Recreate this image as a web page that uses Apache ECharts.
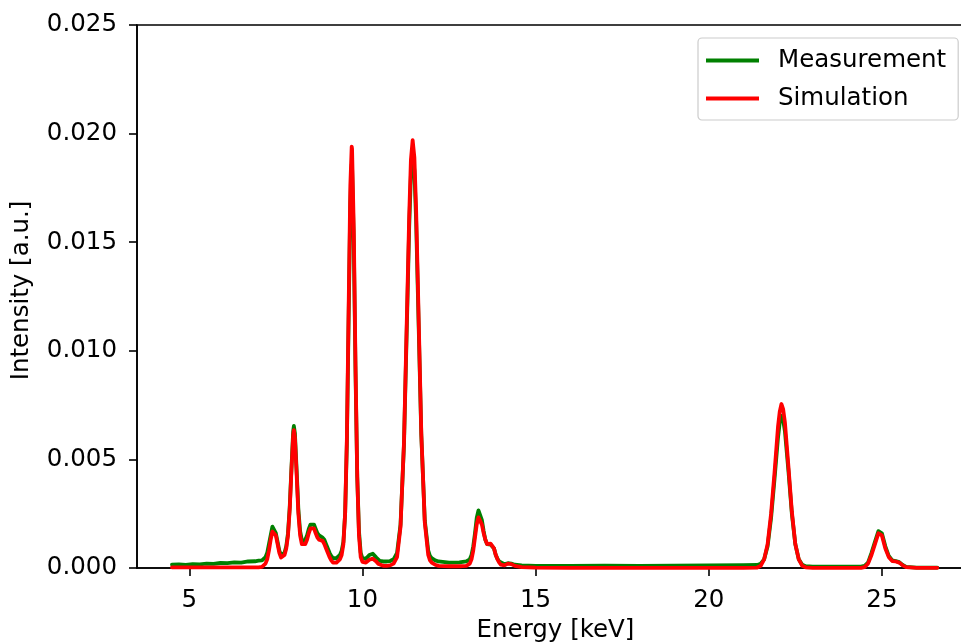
<!DOCTYPE html>
<html>
<head>
<meta charset="utf-8">
<script src="https://cdn.jsdelivr.net/npm/echarts@6/dist/echarts.min.js"></script>
<style>
  html, body { margin: 0; padding: 0; background: #fff; }
  #chart { width: 961px; height: 643px; }
</style>
</head>
<body>
<div id="chart"></div>
<script>
// Energy grid [keV]
const energy = [
  4.5,4.7,4.9,5.1,5.3,5.5,5.7,5.9,6.1,6.3,6.5,6.7,6.9,7.0,
  7.1,7.2,7.25,7.3,7.35,7.4,7.43,7.45,7.5,7.55,7.6,7.65,7.7,7.75,7.8,7.85,7.9,7.95,
  8.0,8.02,8.05,8.1,8.15,8.2,8.25,8.3,8.35,8.4,8.45,8.5,8.55,8.6,8.65,8.7,8.75,8.8,8.85,8.9,8.95,
  9.0,9.05,9.1,9.15,9.2,9.25,9.3,9.35,9.4,9.45,9.5,9.55,9.6,9.65,9.69,9.7,9.75,9.8,9.85,9.9,9.95,
  10.0,10.05,10.1,10.15,10.2,10.25,10.3,10.35,10.4,10.45,10.5,10.6,10.7,10.8,10.9,
  11.0,11.1,11.2,11.3,11.35,11.4,11.45,11.5,11.55,11.6,11.7,11.8,11.9,11.95,
  12.0,12.1,12.2,12.5,12.8,
  13.0,13.1,13.15,13.2,13.25,13.3,13.35,13.38,13.4,13.45,13.5,13.55,13.6,13.65,13.7,13.75,13.8,13.85,13.9,13.95,
  14.0,14.1,14.2,14.25,14.3,14.4,14.6,
  15,16,17,18,19,20,21,21.4,21.5,21.6,21.7,21.8,21.9,
  22.0,22.05,22.1,22.15,22.2,22.3,22.4,22.5,22.6,22.7,22.8,
  23,24,24.4,24.5,24.6,24.7,24.8,24.9,24.95,
  25.0,25.1,25.2,25.3,25.4,25.5,25.6,25.7,26.0,26.6
];

// Measurement intensity [a.u.]
const measurement = [
  0.00015,0.00017,0.00014,0.00018,0.00017,0.0002,0.00019,0.00023,0.00022,0.00026,0.00025,0.0003,0.00031,0.00034,
  0.00035,0.0005,0.0007,0.0011,0.0015,0.0019,0.00194,0.0019,0.0016,0.0012,0.0008,0.0006,0.00058,0.0007,0.001,0.0016,0.0028,0.0046,
  0.0063,0.00654,0.0062,0.0045,0.0027,0.0017,0.0013,0.0012,0.0013,0.0015,0.0018,0.002,0.00208,0.002,0.0018,0.0016,0.0015,0.00143,0.0014,0.0013,0.0011,
  0.0009,0.0007,0.00055,0.00045,0.00043,0.00045,0.0005,0.0006,0.0008,0.0012,0.0025,0.0057,0.0113,0.0168,0.0186,0.0185,0.015,0.009,0.0042,0.0017,0.0007,
  0.00045,0.0004,0.00042,0.0005,0.0006,0.00065,0.00066,0.0006,0.00048,0.0004,0.00033,0.0003,0.0003,0.00032,0.0004,
  0.0007,0.002,0.0057,0.0123,0.0157,0.0181,0.019,0.0183,0.016,0.0127,0.0061,0.0022,0.0008,0.00055,
  0.00045,0.00035,0.0003,0.00025,0.00026,
  0.0003,0.0004,0.0006,0.001,0.0016,0.0023,0.00265,0.0027,0.00265,0.0022,0.0017,0.0013,0.0011,0.00105,0.00108,0.00105,0.0009,0.0006,0.00042,0.0003,
  0.00022,0.00018,0.00022,0.00022,0.0002,0.00015,0.00012,
  0.0001,0.0001,0.00011,0.0001,0.00011,0.00012,0.00013,0.00014,0.0002,0.0004,0.001,0.0023,0.0041,
  0.006,0.0067,0.007,0.0068,0.0063,0.0045,0.0025,0.0011,0.0004,0.00015,0.00008,
  0.00006,0.00006,0.00006,0.0001,0.00025,0.0007,0.0012,0.0017,0.00174,
  0.0016,0.001,0.00055,0.00035,0.00032,0.00027,0.00014,0.00005,0.00002,0.00002
];

// Simulation intensity [a.u.]
const simulation = [
  0.00003,0.00003,0.00003,0.00003,0.00003,0.00003,0.00003,0.00003,0.00003,0.00003,0.00003,0.00003,0.00003,0.00003,
  0.00005,0.0002,0.0004,0.0008,0.0013,0.00168,0.00177,0.00175,0.0015,0.0011,0.0007,0.00048,0.00045,0.0006,0.0009,0.0015,0.0027,0.0045,
  0.0061,0.00635,0.006,0.0043,0.0025,0.0015,0.0011,0.00103,0.0011,0.0013,0.0016,0.00182,0.00189,0.00182,0.0016,0.0014,0.0013,0.00128,0.00125,0.0011,0.0009,
  0.0007,0.0005,0.00035,0.00025,0.00023,0.00025,0.0003,0.0004,0.0006,0.0011,0.0025,0.0059,0.0118,0.0176,0.0194,0.0193,0.0156,0.0093,0.0042,0.0015,0.0005,
  0.00028,0.00024,0.00025,0.0003,0.00038,0.00042,0.00043,0.0004,0.0003,0.0002,0.00013,0.0001,0.0001,0.00012,0.0002,
  0.0005,0.0019,0.0058,0.0127,0.0162,0.0188,0.0197,0.0189,0.0165,0.0131,0.0062,0.0021,0.0006,0.00035,
  0.00025,0.00015,0.0001,0.00008,0.00008,
  0.0001,0.0002,0.0004,0.0008,0.0014,0.002,0.00233,0.00235,0.0023,0.002,0.0016,0.0013,0.0011,0.0011,0.00112,0.0011,0.0009,0.0006,0.0004,0.00025,
  0.00015,0.00012,0.0002,0.00021,0.00018,0.0001,0.00004,
  0.00002,0.00001,0.00001,0.00001,0.00001,0.00001,0.00001,0.00002,0.0001,0.0004,0.0011,0.0025,0.0044,
  0.0065,0.0072,0.00755,0.0073,0.0067,0.0047,0.0026,0.0011,0.0004,0.0001,0.00003,
  0.00001,0.00001,0.00001,0.00004,0.0002,0.0006,0.0011,0.0016,0.00161,
  0.0015,0.0009,0.0005,0.00032,0.0003,0.00025,0.00012,0.00004,0.00001,0.00001
];

const xTicks = [5, 10, 15, 20, 25];
const yTicks = [0, 0.005, 0.010, 0.015, 0.020, 0.025];
const seriesNames = ['Measurement', 'Simulation'];

const pairs = (ys) => energy.map((e, i) => [e, ys[i]]);

const FONT = 'DejaVu Sans';
const FS = 24.5;
const chart = echarts.init(document.getElementById('chart'), null, { renderer: 'canvas' });
chart.setOption({
  animation: false,
  backgroundColor: '#ffffff',
  grid: {
    left: 137, top: 25, width: 837, height: 543,
    outerBoundsMode: 'none', containLabel: false,
    show: true, borderColor: '#000', borderWidth: 1.6, backgroundColor: 'transparent'
  },
  legend: {
    orient: 'vertical',
    left: 698, top: 38,
    padding: [10, 12, 9, 8],
    itemGap: 13,
    itemWidth: 53, itemHeight: 4,
    backgroundColor: 'rgba(255,255,255,0.8)',
    borderColor: '#cccccc', borderWidth: 1.2, borderRadius: 4,
    textStyle: { fontFamily: FONT, fontSize: FS, color: '#000', padding: [0, 0, 0, 14], lineHeight: 24 },
    data: seriesNames.map(n => ({ name: n, icon: 'rect' }))
  },
  xAxis: {
    type: 'value', min: 3.49, max: 27.66,
    name: 'Energy [keV]', nameLocation: 'middle', nameGap: 48,
    nameTextStyle: { fontFamily: FONT, fontSize: FS, color: '#000' },
    axisLine: { show: true, onZero: false, lineStyle: { color: '#000', width: 1.6 } },
    axisTick: { show: true, length: 8, lineStyle: { color: '#000', width: 1.6 }, customValues: xTicks },
    axisLabel: { fontFamily: FONT, fontSize: FS, color: '#000', margin: 20, customValues: xTicks,
                 formatter: v => String(v) },
    splitLine: { show: false }
  },
  yAxis: {
    type: 'value', min: 0, max: 0.025, interval: 0.005,
    name: 'Intensity [a.u.]', nameLocation: 'middle', nameGap: 103,
    nameTextStyle: { fontFamily: FONT, fontSize: FS, color: '#000', padding: [0, 0, 0, 12] },
    axisLine: { show: true, lineStyle: { color: '#000', width: 1.6 } },
    axisTick: { show: true, length: 8, lineStyle: { color: '#000', width: 1.6 }, customValues: yTicks },
    axisLabel: { fontFamily: FONT, fontSize: FS, color: '#000', margin: 20, customValues: yTicks,
                 formatter: v => v.toFixed(3) },
    splitLine: { show: false }
  },
  series: [
    { name: seriesNames[0], type: 'line', data: pairs(measurement), showSymbol: false,
      lineStyle: { color: '#008000', width: 3.8, join: 'round', cap: 'round' }, itemStyle: { color: '#008000' }, z: 2 },
    { name: seriesNames[1], type: 'line', data: pairs(simulation), showSymbol: false,
      lineStyle: { color: '#ff0000', width: 3.8, join: 'round', cap: 'round' }, itemStyle: { color: '#ff0000' }, z: 3 }
  ]
});
</script>
</body>
</html>
